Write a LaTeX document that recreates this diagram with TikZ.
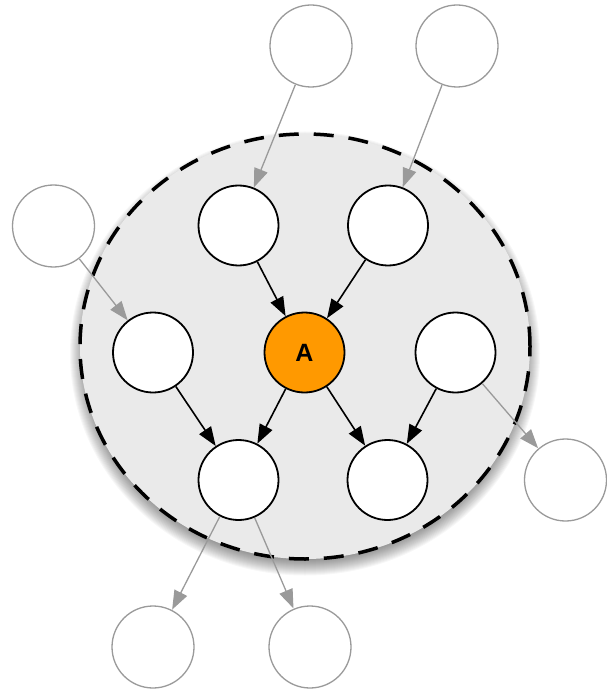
\documentclass[tikz,border=0pt]{standalone}
\usepackage{fontspec}
\setmainfont{Liberation Sans}
\usetikzlibrary{arrows.meta}
\definecolor{ringfill}{HTML}{EAEAEA}
\definecolor{outergray}{HTML}{9A9A9A}
\definecolor{aorange}{HTML}{FF9900}
\tikzset{
  innernode/.style={circle, draw=black, fill=white, line width=1.8pt, minimum size=80pt, inner sep=0pt, outer sep=1pt},
  outernode/.style={circle, draw=outergray, fill=white, line width=1.3pt, minimum size=82pt, inner sep=0pt, outer sep=1pt},
  anode/.style={innernode, fill=aorange, font=\bfseries\fontsize{25}{25}\selectfont},
  blackedge/.style={draw=black, line width=1.6pt, -{Triangle[length=19pt,width=14pt]}},
  grayedge/.style={draw=outergray, line width=1.3pt, -{Triangle[length=19pt,width=14pt]}},
}
\begin{document}
\begin{tikzpicture}[x=1pt,y=-1pt]
\useasboundingbox (0,0) rectangle (606,692);
% blurred shadow of the big ring
\foreach \k in {0,...,20}{
  \fill[black,opacity=0.03] (305,353.5) ellipse [x radius={215pt+\k pt}, y radius={202pt+\k pt}];
}
% big ring
\path[fill=ringfill, draw=black, line width=3.5pt, dash pattern=on 20pt off 15pt] (305,346.5) ellipse [x radius=225pt, y radius=212.5pt];
% nodes
\node[outernode] (o1) at (311,46) {};
\node[outernode] (o2) at (457,46) {};
\node[outernode] (o3) at (53.5,226) {};
\node[innernode] (t1) at (238.5,225.5) {};
\node[innernode] (t2) at (388,225.5) {};
\node[innernode] (m1) at (153,352.5) {};
\node[anode] (a) at (304.5,352.5) {A};
\node[innernode] (m3) at (455.5,352.5) {};
\node[innernode] (b1) at (238.5,480) {};
\node[innernode] (b2) at (387.5,480) {};
\node[outernode] (o4) at (565.5,480) {};
\node[outernode] (o5) at (153,647) {};
\node[outernode] (o6) at (310,647) {};
% edges
\draw[grayedge] (o1) -- (t1);
\draw[grayedge] (o2) -- (t2);
\draw[grayedge] (o3) -- (m1);
\draw[blackedge] (t1) -- (a);
\draw[blackedge] (t2) -- (a);
\draw[blackedge] (m1) -- (b1);
\draw[blackedge] (a) -- (b1);
\draw[blackedge] (a) -- (b2);
\draw[blackedge] (m3) -- (b2);
\draw[grayedge] (m3) -- (o4);
\draw[grayedge] (b1) -- (o5);
\draw[grayedge] (b1) -- (o6);
\end{tikzpicture}
\end{document}
